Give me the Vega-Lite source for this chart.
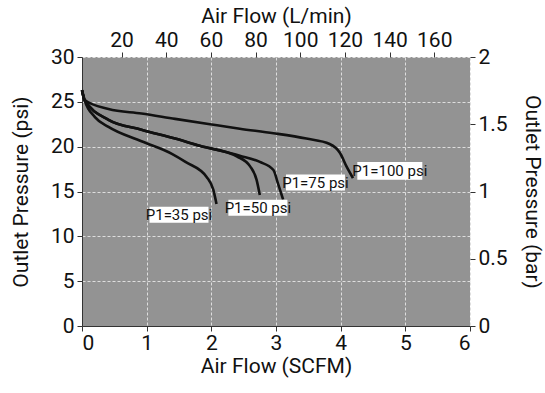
{
  "$schema": "https://vega.github.io/schema/vega-lite/v6.json",
  "width": 388,
  "height": 269,
  "autosize": "none",
  "padding": {"left": 82, "top": 57, "right": 75, "bottom": 67},
  "background": "white",
  "config": {
    "view": {"fill": "#939393", "stroke": null},
    "font": "Roboto, Liberation Sans, sans-serif",
    "axis": {
      "labelFontSize": 21,
      "titleFontSize": 21,
      "titleFontWeight": "normal",
      "labelColor": "#111",
      "titleColor": "#111",
      "tickColor": "#333",
      "domainColor": "#333",
      "tickSize": 5,
      "gridColor": "#dedede",
      "gridDash": [3, 2],
      "gridWidth": 1
    }
  },
  "datasets": {
    "curves": [
      {"series": "P1=100 psi", "scfm": 0, "psi": 26.3},
      {"series": "P1=100 psi", "scfm": 0.04, "psi": 25.2},
      {"series": "P1=100 psi", "scfm": 0.41, "psi": 24.2},
      {"series": "P1=100 psi", "scfm": 0.92, "psi": 23.7},
      {"series": "P1=100 psi", "scfm": 1.44, "psi": 23.1},
      {"series": "P1=100 psi", "scfm": 1.98, "psi": 22.5},
      {"series": "P1=100 psi", "scfm": 2.44, "psi": 22.0},
      {"series": "P1=100 psi", "scfm": 2.96, "psi": 21.5},
      {"series": "P1=100 psi", "scfm": 3.47, "psi": 20.9},
      {"series": "P1=100 psi", "scfm": 3.83, "psi": 20.3},
      {"series": "P1=100 psi", "scfm": 3.99, "psi": 19.3},
      {"series": "P1=100 psi", "scfm": 4.09, "psi": 17.8},
      {"series": "P1=100 psi", "scfm": 4.19, "psi": 16.5},
      {"series": "P1=75 psi", "scfm": 0, "psi": 26.3},
      {"series": "P1=75 psi", "scfm": 0.04, "psi": 25.2},
      {"series": "P1=75 psi", "scfm": 0.41, "psi": 23.0},
      {"series": "P1=75 psi", "scfm": 0.92, "psi": 21.9},
      {"series": "P1=75 psi", "scfm": 1.44, "psi": 20.9},
      {"series": "P1=75 psi", "scfm": 1.82, "psi": 20.1},
      {"series": "P1=75 psi", "scfm": 2.44, "psi": 19.0},
      {"series": "P1=75 psi", "scfm": 2.75, "psi": 18.3},
      {"series": "P1=75 psi", "scfm": 2.96, "psi": 17.4},
      {"series": "P1=75 psi", "scfm": 3.03, "psi": 15.9},
      {"series": "P1=75 psi", "scfm": 3.11, "psi": 14.1},
      {"series": "P1=50 psi", "scfm": 0, "psi": 26.3},
      {"series": "P1=50 psi", "scfm": 0.04, "psi": 25.2},
      {"series": "P1=50 psi", "scfm": 0.41, "psi": 23.0},
      {"series": "P1=50 psi", "scfm": 0.92, "psi": 21.9},
      {"series": "P1=50 psi", "scfm": 1.44, "psi": 20.9},
      {"series": "P1=50 psi", "scfm": 1.82, "psi": 20.1},
      {"series": "P1=50 psi", "scfm": 2.4, "psi": 18.9},
      {"series": "P1=50 psi", "scfm": 2.6, "psi": 17.8},
      {"series": "P1=50 psi", "scfm": 2.7, "psi": 16.3},
      {"series": "P1=50 psi", "scfm": 2.75, "psi": 14.6},
      {"series": "P1=35 psi", "scfm": 0, "psi": 26.3},
      {"series": "P1=35 psi", "scfm": 0.04, "psi": 25.2},
      {"series": "P1=35 psi", "scfm": 0.2, "psi": 23.3},
      {"series": "P1=35 psi", "scfm": 0.41, "psi": 22.2},
      {"series": "P1=35 psi", "scfm": 0.92, "psi": 20.6},
      {"series": "P1=35 psi", "scfm": 1.39, "psi": 19.2},
      {"series": "P1=35 psi", "scfm": 1.6, "psi": 18.3},
      {"series": "P1=35 psi", "scfm": 1.93, "psi": 16.6},
      {"series": "P1=35 psi", "scfm": 2.03, "psi": 15.2},
      {"series": "P1=35 psi", "scfm": 2.08, "psi": 13.6}
    ],
    "labels": [
      {"label": "P1=35 psi", "scfm": 1.5, "psi": 12.4},
      {"label": "P1=50 psi", "scfm": 2.72, "psi": 13.2},
      {"label": "P1=75 psi", "scfm": 3.61, "psi": 16.0},
      {"label": "P1=100 psi", "scfm": 4.76, "psi": 17.3}
    ]
  },
  "layer": [
    {
      "layer": [
        {
          "data": {"name": "curves"},
          "mark": {"type": "line", "interpolate": "monotone", "strokeWidth": 2.6, "color": "#111"},
          "encoding": {
            "x": {
              "field": "scfm", "type": "quantitative",
              "scale": {"domain": [0, 6], "nice": false, "zero": false},
              "axis": {"orient": "bottom", "values": [0, 1, 2, 3, 4, 5, 6], "format": "d", "title": "Air Flow (SCFM)", "grid": true, "labelPadding": 1, "titlePadding": 2}
            },
            "y": {
              "field": "psi", "type": "quantitative",
              "scale": {"domain": [0, 30], "nice": false},
              "axis": {"orient": "left", "values": [0, 5, 10, 15, 20, 25, 30], "format": "d", "title": "Outlet Pressure (psi)", "grid": true, "labelPadding": 3, "titlePadding": 19}
            },
            "detail": {"field": "series"}
          }
        },
        {
          "data": {"name": "labels"},
          "transform": [{"filter": "datum.label != 'P1=100 psi'"}],
          "mark": {"type": "point", "shape": "M-1,-0.271H1V0.271H-1Z", "filled": true, "color": "white", "opacity": 1, "size": 3481, "strokeWidth": 0},
          "encoding": {
            "x": {"field": "scfm", "type": "quantitative"},
            "y": {"field": "psi", "type": "quantitative"}
          }
        },
        {
          "data": {"name": "labels"},
          "transform": [{"filter": "datum.label == 'P1=100 psi'"}],
          "mark": {"type": "point", "shape": "M-1,-0.27H1V0.27H-1Z", "filled": true, "color": "white", "opacity": 1, "size": 4225, "strokeWidth": 0},
          "encoding": {
            "x": {"field": "scfm", "type": "quantitative"},
            "y": {"field": "psi", "type": "quantitative"}
          }
        },
        {
          "data": {"name": "labels"},
          "mark": {"type": "text", "fontSize": 15, "color": "#111", "align": "center", "baseline": "middle"},
          "encoding": {
            "x": {"field": "scfm", "type": "quantitative"},
            "y": {"field": "psi", "type": "quantitative"},
            "text": {"field": "label"}
          }
        }
      ]
    },
    {
      "data": {"name": "labels"},
      "mark": {"type": "point", "opacity": 0},
      "encoding": {
        "x": {
          "datum": 100, "type": "quantitative",
          "scale": {"domain": [2.3, 176], "nice": false, "zero": false},
          "axis": {"orient": "top", "values": [20, 40, 60, 80, 100, 120, 140, 160], "format": "d", "title": "Air Flow (L/min)", "grid": false, "domain": false, "labelPadding": 2, "titlePadding": 3}
        },
        "y": {
          "datum": 1, "type": "quantitative",
          "scale": {"domain": [0, 2], "nice": false},
          "axis": {"orient": "right", "values": [0, 0.5, 1, 1.5, 2], "format": "~g", "title": "Outlet Pressure (bar)", "grid": false, "domain": false, "labelPadding": 3, "titlePadding": 14}
        }
      }
    }
  ],
  "resolve": {"scale": {"x": "independent", "y": "independent"}, "axis": {"x": "independent", "y": "independent"}}
}
